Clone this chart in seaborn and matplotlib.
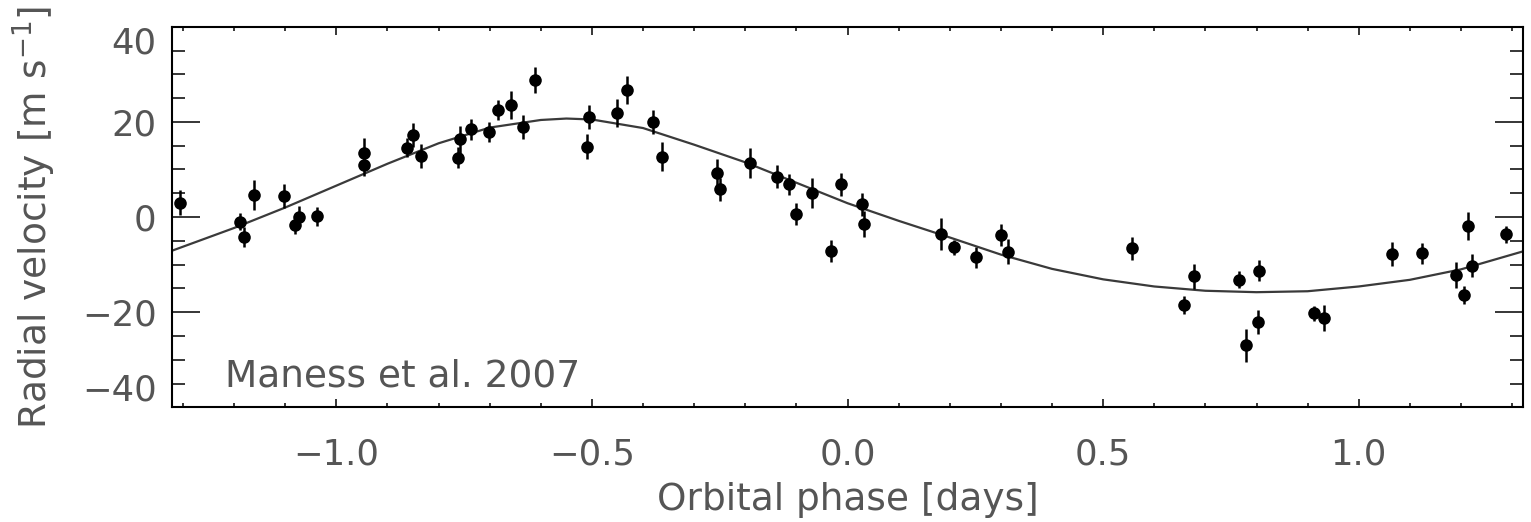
import numpy as np
import pandas as pd
import matplotlib
matplotlib.use("Agg")
import matplotlib.pyplot as plt
import seaborn as sns
from matplotlib.ticker import MultipleLocator

# ---- data ----
phase = [-1.305, -1.188, -1.181, -1.161, -1.102, -1.081, -1.074, -1.038,
         -0.946, -0.945, -0.861, -0.850, -0.835, -0.762, -0.758, -0.736,
         -0.701, -0.684, -0.659, -0.635, -0.611, -0.510, -0.506, -0.451,
         -0.431, -0.381, -0.363, -0.255, -0.249, -0.191, -0.139, -0.114,
         -0.101, -0.070, -0.033, -0.012, 0.028, 0.033, 0.182, 0.208,
         0.251, 0.301, 0.314, 0.557, 0.658, 0.678, 0.765, 0.779,
         0.803, 0.804, 0.912, 0.932, 1.066, 1.123, 1.191, 1.206,
         1.214, 1.221, 1.289]
rv = [3.0, -1.0, -4.3, 4.6, 4.4, -1.7, 0.1, 0.2,
      13.4, 10.9, 14.6, 17.2, 12.8, 12.5, 16.3, 18.4,
      17.9, 22.5, 23.5, 18.9, 28.8, 14.8, 21.0, 21.9,
      26.7, 20.0, 12.7, 9.3, 5.8, 11.3, 8.5, 6.9,
      0.6, 5.1, -7.1, 6.9, 2.7, -1.5, -3.6, -6.4,
      -8.5, -3.8, -7.3, -6.6, -18.5, -12.5, -13.2, -27.0,
      -22.0, -11.3, -20.2, -21.2, -7.8, -7.6, -12.2, -16.4,
      -1.9, -10.2, -3.6]
rv_err = [2.6, 1.8, 2.1, 3.1, 2.5, 1.8, 2.2, 2.0,
          3.2, 2.2, 2.0, 2.5, 2.5, 2.2, 2.8, 2.2,
          2.1, 2.2, 2.9, 2.6, 2.8, 2.7, 2.6, 2.9,
          2.9, 2.6, 3.0, 2.8, 2.5, 3.2, 2.5, 2.2,
          2.3, 3.2, 2.3, 2.4, 2.4, 2.7, 3.3, 1.5,
          2.3, 2.3, 2.6, 2.5, 1.8, 2.6, 1.8, 3.5,
          2.5, 2.2, 1.6, 2.8, 2.6, 2.2, 2.8, 1.8,
          3.0, 2.5, 1.8]

# orbital model curve
model_phase = [-1.322, -1.2, -1.1, -1.0, -0.9, -0.8, -0.7, -0.6, -0.55, -0.5,
               -0.4, -0.3, -0.2, -0.1, 0.0, 0.1, 0.2, 0.3, 0.4, 0.5,
               0.6, 0.7, 0.8, 0.9, 1.0, 1.1, 1.2, 1.322]
model_rv = [-7.1, -2.3, 2.0, 6.6, 11.2, 15.5, 18.8, 20.4, 20.7, 20.5,
            18.7, 15.2, 11.5, 7.2, 2.9, -0.8, -4.3, -7.9, -10.9, -13.1,
            -14.6, -15.5, -15.8, -15.6, -14.6, -13.2, -11.0, -7.2]

xticks = [-1.0, -0.5, 0.0, 0.5, 1.0]
xticklabels = ["\u22121.0", "\u22120.5", "0.0", "0.5", "1.0"]
yticks = [-40, -20, 0, 20, 40]
yticklabels = ["\u221240", "\u221220", "0", "20", "40"]

pts = pd.DataFrame({"phase": phase, "rv": rv, "err": rv_err})
model = pd.DataFrame({"phase": model_phase, "rv": model_rv})

# ---- style ----
sns.set_theme(style="white")
plt.rcParams["font.family"] = ["DejaVu Sans"]
plt.rcParams["mathtext.fontset"] = "dejavusans"
txt_color = "#555555"

fig = plt.figure(figsize=(15.31, 5.22), dpi=100)
ax = fig.add_axes([0.1122, 0.2197, 0.8828, 0.7291])

sns.lineplot(data=model, x="phase", y="rv", ax=ax, color="#3a3a3a",
             linewidth=1.6, estimator=None, sort=True, zorder=2)
ax.errorbar(pts["phase"], pts["rv"], yerr=pts["err"], fmt="none",
            ecolor="black", elinewidth=1.8, capsize=0, zorder=3)
sns.scatterplot(data=pts, x="phase", y="rv", ax=ax, color="black", s=82,
                linewidth=0, zorder=4)

ax.set_xlim(-1.322, 1.322)
ax.set_ylim(-40, 40)

ax.set_xticks(xticks)
ax.set_xticklabels(xticklabels)
ax.xaxis.set_minor_locator(MultipleLocator(0.1))
ax.set_yticks(yticks)
ax.set_yticklabels(yticklabels)
ax.yaxis.set_minor_locator(MultipleLocator(5))

ax.tick_params(axis="x", which="major", direction="in", length=6, width=1.1,
               top=True, bottom=True, labelsize=25.5, pad=22,
               labelcolor=txt_color, color="black")
ax.tick_params(axis="x", which="minor", direction="in", length=3.2, width=1.1,
               top=True, bottom=True, color="black")
ax.tick_params(axis="y", which="major", direction="in", length=20, width=1.1,
               left=True, right=True, labelsize=25.5, pad=11,
               labelcolor=txt_color, color="black")
ax.tick_params(axis="y", which="minor", direction="in", length=9.5, width=1.1,
               left=True, right=True, color="black")

# edge labels sit inside the frame, as in the reference
ylabs = ax.get_yticklabels()
ylabs[-1].set_va("top")
ylabs[0].set_va("bottom")

for sp in ax.spines.values():
    sp.set_color("black")
    sp.set_linewidth(1.5)

ax.set_xlabel("Orbital phase [days]", fontsize=27, color=txt_color, labelpad=7)
ax.set_ylabel(r"Radial velocity [m s$^{-1}$]", fontsize=27, color=txt_color,
              labelpad=17)

ax.text(-1.217, -35.7, "Maness et al. 2007", fontsize=27, color=txt_color,
        va="baseline", ha="left")

fig.savefig("out.png", dpi=100)
